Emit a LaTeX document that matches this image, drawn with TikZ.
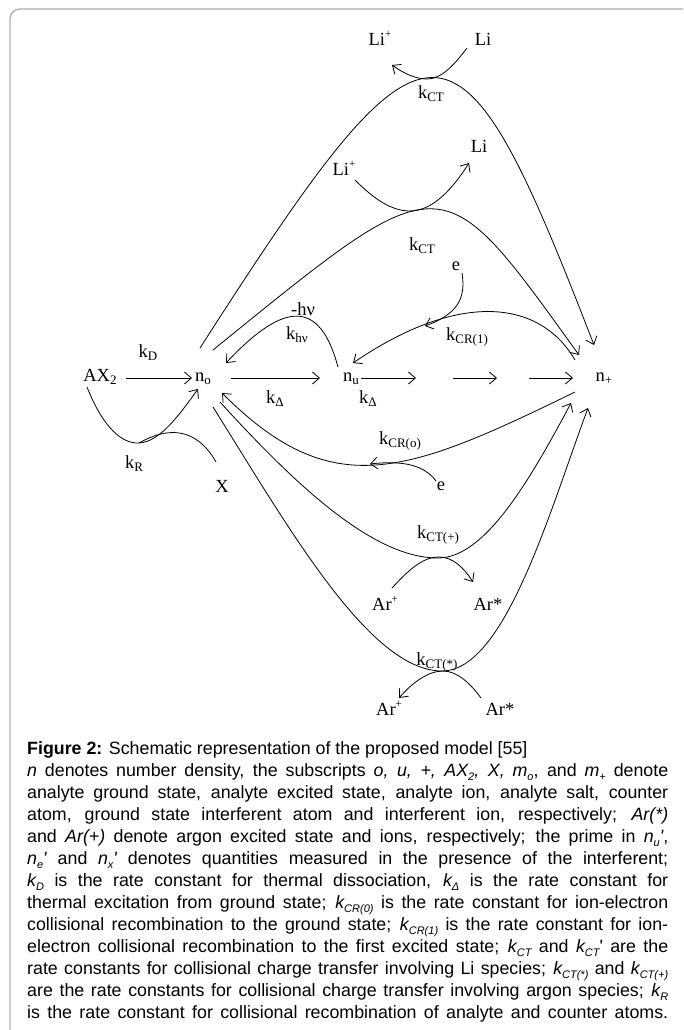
\documentclass[tikz,border=0pt]{standalone}
\usepackage{fontspec}
\setmainfont{Liberation Serif}
\newfontfamily\capfont{Liberation Sans}
\usetikzlibrary{arrows.meta}
\newcommand\dsub[1]{\raisebox{-3pt}{\fontsize{13}{13}\selectfont #1}}
\newcommand\dsup[1]{\raisebox{8pt}{\fontsize{11}{11}\selectfont #1}}
\newcommand\csub[1]{\raisebox{-4.5pt}{\fontsize{11}{11}\selectfont #1}}
\begin{document}
\begin{tikzpicture}[x=1pt,y=-1pt,
  lbl/.style={inner sep=0pt, font=\fontsize{18.5}{20}\selectfont, anchor=base},
  conn/.style={line width=0.8pt},
  arr/.style={conn, -{Straight Barb[length=7pt,width=12pt]}},
  capline/.style={inner sep=0pt, anchor=base west, font=\capfont\fontsize{17.8}{22}\selectfont}]
\useasboundingbox (0,0) rectangle (683,1030);
\begin{scope}
\clip (0,0) rectangle (683,1030);
\draw[gray!65, line width=1.3pt, rounded corners=10pt] (10,9) rectangle (700,1050);
\end{scope}

% labels
\node[lbl] (LiPa) at (380,46) {Li\dsup{+}};
\node[lbl] (Lia) at (483,46) {Li};
\node[lbl] (kCTa) at (431,99) {k\dsub{CT}};
\node[lbl] (Lib) at (479,153) {Li};
\node[lbl] (LiPb) at (344,175) {Li\dsup{+}};
\node[lbl] (kCTb) at (422,250) {k\dsub{CT}};
\node[lbl] (ea) at (456,270) {e};
\node[lbl] (hv) at (303,315) {-hν};
\node[lbl] (khv) at (297,339) {k\dsub{hν}};
\node[lbl] (kCRa) at (467,340) {k\dsub{CR(1)}};
\node[lbl] (kD) at (148,357) {k\dsub{D}};
\node[lbl] (AX) at (100,381) {AX\dsub{2}};
\node[lbl] (no) at (203,381) {n\dsub{o}};
\node[lbl] (nu) at (351,381) {n\dsub{u}};
\node[lbl] (np) at (604,381) {n\dsub{+}};
\node[lbl] (kDa) at (275,403) {k\dsub{Δ}};
\node[lbl] (kDb) at (368,403) {k\dsub{Δ}};
\node[lbl] (kCRo) at (400,444) {k\dsub{CR(o)}};
\node[lbl] (kR) at (134,468) {k\dsub{R}};
\node[lbl] (X) at (222,492) {X};
\node[lbl] (eb) at (441,490) {e};
\node[lbl] (kCTp) at (438,538) {k\dsub{CT(+)}};
\node[lbl] (ArPa) at (385,610) {Ar\dsup{+}};
\node[lbl] (ArSa) at (488,610) {Ar*};
\node[lbl] (kCTs) at (437,665) {k\dsub{CT(*)}};
\node[lbl] (ArPb) at (389,715) {Ar\dsup{+}};
\node[lbl] (ArSb) at (500,715) {Ar*};

% connector end points
\coordinate (AXr) at (126,378);
\coordinate (noL) at (192,378);
\coordinate (noR) at (231,378);
\coordinate (nuL) at (320,378);
\coordinate (nuR) at (361,378);
\coordinate (m1a) at (416,378);
\coordinate (m1b) at (453,378);
\coordinate (m2a) at (497,378);
\coordinate (m2b) at (529,378);
\coordinate (npL) at (573,378);

\coordinate (c1s) at (200,348);
\coordinate (c1e) at (594,345);
\coordinate (c2s) at (213,350);
\coordinate (c2e) at (579,355);
\coordinate (l1s) at (467,48);
\coordinate (l1e) at (392,65);
\coordinate (l2s) at (355,180);
\coordinate (l2e) at (469,163);
\coordinate (h1s) at (338,367);
\coordinate (h1e) at (226,363);
\coordinate (r1s) at (575,360);
\coordinate (r1e) at (353,363);
\coordinate (e1s) at (462,273);
\coordinate (e1e) at (425,326);
\coordinate (r0s) at (575,392);
\coordinate (r0e) at (222,393);
\coordinate (e2s) at (436,481);
\coordinate (e2e) at (370,464);
\coordinate (rs) at (87,387);
\coordinate (rm) at (139,443);
\coordinate (re) at (198,389);
\coordinate (xe) at (216,462);
\coordinate (p1s) at (220,402);
\coordinate (p1e) at (571,403);
\coordinate (p2s) at (213,407);
\coordinate (p2e) at (588,408);
\coordinate (a1s) at (392,588);
\coordinate (a1e) at (473,582);
\coordinate (a2s) at (481,698);
\coordinate (a2e) at (399,698);

% straight arrows
\draw[arr] (AXr) -- (noL);
\draw[arr] (noR) -- (nuL);
\draw[arr] (nuR) -- (m1a);
\draw[arr] (m1b) -- (m2a);
\draw[arr] (m2b) -- (npL);

% upper arcs
\draw[arr] (c1s) .. controls (431,-12) and (456,-12) .. (c1e);
\draw[arr] (c2s) .. controls (446,161) and (439,161) .. (c2e);
\draw[arr] (l1s) .. controls (452,68) and (440,79) .. (427,79) .. controls (414,79) and (402,72) .. (l1e);
\draw[arr] (l2s) .. controls (372,197) and (390,211) .. (410,211) .. controls (432,211) and (452,190) .. (l2e);

% h nu and recombination
\draw[arr] (h1s) .. controls (320,300) and (285,300) .. (h1e);
\draw[arr] (r1s) .. controls (540,300) and (460,290) .. (r1e);
\draw[arr] (e1s) .. controls (466,298) and (458,314) .. (e1e);
\draw[arr] (r0s) .. controls (405,475) and (332,503) .. (r0e);
\draw[arr] (e2s) .. controls (425,466) and (405,460) .. (e2e);

% k_R
\draw[arr] (rs) .. controls (100,420) and (118,444) .. (rm) .. controls (160,442) and (180,414) .. (re);
\draw[conn] (rm) .. controls (165,428) and (195,425) .. (xe);

% lower arcs
\draw[arr] (p1s) .. controls (300,490) and (375,558) .. (438,558) .. controls (485,558) and (530,480) .. (p1e);
\draw[arr] (p2s) .. controls (290,530) and (370,671) .. (442,671) .. controls (505,671) and (550,510) .. (p2e);
\draw[arr] (a1s) .. controls (412,566) and (425,557) .. (439,557) .. controls (453,557) and (464,568) .. (a1e);
\draw[arr] (a2s) .. controls (470,683) and (457,671) .. (443,671) .. controls (428,671) and (412,683) .. (a2e);

% caption
\node[capline] (cap1) at (27,754) {\textbf{Figure 2:} Schematic representation of the proposed model [55]};
\node[capline] (cap2) at (27,776) {\makebox[641pt][s]{\textit{n} denotes number density, the subscripts \textit{o, u, +, AX\csub{2}, X, m\csub{o}}, and \textit{m\csub{+}} denote}};
\node[capline] (cap3) at (27,798) {\makebox[641pt][s]{analyte ground state, analyte excited state, analyte ion, analyte salt, counter}};
\node[capline] (cap4) at (27,820) {\makebox[641pt][s]{atom, ground state interferent atom and interferent ion, respectively; \textit{Ar(*)}}};
\node[capline] (cap5) at (27,842) {\makebox[641pt][s]{and \textit{Ar(+)} denote argon excited state and ions, respectively; the prime in \textit{n\csub{u}'},}};
\node[capline] (cap6) at (27,864) {\makebox[641pt][s]{\textit{n\csub{e}'} and \textit{n\csub{x}'} denotes quantities measured in the presence of the interferent;}};
\node[capline] (cap7) at (27,886) {\makebox[641pt][s]{\textit{k\csub{D}} is the rate constant for thermal dissociation, \textit{k\csub{Δ}} is the rate constant for}};
\node[capline] (cap8) at (27,908) {\makebox[641pt][s]{thermal excitation from ground state; \textit{k\csub{CR(0)}} is the rate constant for ion-electron}};
\node[capline] (cap9) at (27,930) {\makebox[641pt][s]{collisional recombination to the ground state; \textit{k\csub{CR(1)}} is the rate constant for ion-}};
\node[capline] (cap10) at (27,952) {\makebox[641pt][s]{electron collisional recombination to the first excited state; \textit{k\csub{CT}} and \textit{k\csub{CT}}' are the}};
\node[capline] (cap11) at (27,974) {\makebox[641pt][s]{rate constants for collisional charge transfer involving Li species; \textit{k\csub{CT(*)}} and \textit{k\csub{CT(+)}}}};
\node[capline] (cap12) at (27,996) {\makebox[641pt][s]{are the rate constants for collisional charge transfer involving argon species; \textit{k\csub{R}}}};
\node[capline] (cap13) at (27,1018) {\makebox[641pt][s]{is the rate constant for collisional recombination of analyte and counter atoms.}};
\end{tikzpicture}
\end{document}
